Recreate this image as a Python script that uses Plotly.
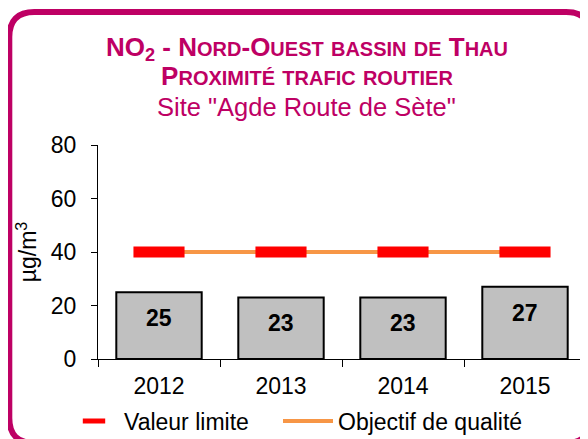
import plotly.graph_objects as go

# ---------------- data ----------------
years = ["2012", "2013", "2014", "2015"]
no2_means = [25, 23, 23, 27]
limit_values = [40, 40, 40, 40]
quality_objective = [40, 40, 40, 40]
y_ticks = [0, 20, 40, 60, 80]

# ---------------- geometry / style ----------------
# the page body has an 8px margin, so the figure is drawn 8px in from the
# window's top-left corner; geometry below is in figure pixels.
OFF = 8
W, H = 588 - OFF, 439 - OFF
ML, MR, MT, MB = 90, 2, 137, 80
PW = W - ML - MR
PH = H - MT - MB

MAGENTA = "#BE0064"
FONT = "Arial, 'Liberation Sans', Helvetica, sans-serif"


def px_x(px):
    return (px - ML) / PW


def px_y(py):
    return (H - MB - py) / PH


def small_caps(text, big=26, small=20):
    out, run, kind = [], "", None
    for ch in text:
        k = "s" if ch.islower() else "b"
        if k != kind and run:
            size = small if kind == "s" else big
            out.append(f'<span style="font-size:{size}px">{run}</span>')
            run = ""
        kind = k
        run += ch.upper() if k == "s" else ch
    if run:
        size = small if kind == "s" else big
        out.append(f'<span style="font-size:{size}px">{run}</span>')
    return "".join(out)


line1 = '<span style="font-size:26px">NO<sub>2</sub></span>' + small_caps(" - Nord-Ouest bassin de Thau")
line2 = small_caps("Proximité trafic routier")

fig = go.Figure()
fig.add_trace(go.Bar(
    x=years, y=no2_means, width=0.7,
    marker=dict(color="#C0C0C0", line=dict(color="black", width=2)),
    showlegend=False, hoverinfo="skip",
))
fig.add_trace(go.Scatter(
    x=years, y=quality_objective, mode="lines", name="Objectif de qualité",
    line=dict(color="#F79646", width=4), legendrank=2, legendwidth=200,
    hoverinfo="skip",
))
fig.add_trace(go.Scatter(
    x=years, y=limit_values, mode="markers", name="Valeur limite",
    marker=dict(symbol="line-ew", size=36.5, color="#FF0000",
                line=dict(color="#FF0000", width=11)),
    legendrank=1, legendwidth=149, hoverinfo="skip",
))

annotations = []
for i, v in enumerate(no2_means):
    annotations.append(dict(
        x=i, y=v, xref="x", yref="y", text=str(v), showarrow=False,
        yanchor="middle", yshift=-26,
        font=dict(family=FONT, size=23, color="black", weight="bold"),
    ))
annotations.append(dict(
    x=px_x(298.5), y=px_y(99), xref="paper", yref="paper",
    text='Site "Agde Route de Sète"', showarrow=False,
    xanchor="center", yanchor="middle",
    font=dict(family=FONT, size=25.5, color=MAGENTA),
))

# rounded frame (figure pixels)
x0, x1, y0, y1, R = 1.3, 583, 4, 435, 25
P = lambda px, py: f"{px_x(px):.5f},{px_y(py):.5f}"
frame_path = (
    f"M{P(x0 + R, y0)} L{P(x1 - R, y0)} Q{P(x1, y0)} {P(x1, y0 + R)} "
    f"L{P(x1, y1 - R)} Q{P(x1, y1)} {P(x1 - R, y1)} "
    f"L{P(x0 + R, y1)} Q{P(x0, y1)} {P(x0, y1 - R)} "
    f"L{P(x0, y0 + R)} Q{P(x0, y0)} {P(x0 + R, y0)} Z"
)

fig.update_layout(
    template="none",
    width=W, height=H,
    margin=dict(l=ML, r=MR, t=MT, b=MB, pad=0, autoexpand=False),
    paper_bgcolor="white", plot_bgcolor="white",
    font=dict(family=FONT, color="black", size=23),
    title=dict(
        text=line1 + "<br>" + line2,
        xref="container", x=299 / W, xanchor="center",
        yref="container", y=1 - 48 / H, yanchor="top",
        font=dict(family=FONT, size=22, color=MAGENTA, weight="bold"),
    ),
    xaxis=dict(
        type="category", range=[-0.5, 3.5], showline=True, linecolor="black",
        linewidth=1, ticks="outside", ticklen=7, tickcolor="black",
        tickson="boundaries", tickfont=dict(size=23), showgrid=False,
        zeroline=False, automargin=False, ticklabelstandoff=6,
    ),
    yaxis=dict(
        range=[0, 80], tickvals=y_ticks, showline=True, linecolor="black",
        linewidth=1, ticks="outside", ticklen=6, tickcolor="black",
        tickfont=dict(size=23), showgrid=False, zeroline=False,
        automargin=False, ticklabelstandoff=10,
        title=dict(text="µg/m<sup>3</sup>", font=dict(size=23), standoff=7),
    ),
    legend=dict(
        orientation="h", xref="container", x=56 / W, xanchor="left",
        yref="container", y=1 - 413 / H, yanchor="middle",
        font=dict(size=23), itemwidth=50,
        bgcolor="rgba(0,0,0,0)", traceorder="normal",
    ),
    bargap=0.3,
    annotations=annotations,
    shapes=[dict(type="path", xref="paper", yref="paper", path=frame_path,
                 line=dict(color=MAGENTA, width=6), layer="above")],
    showlegend=True,
)

fig.write_html("out.html")
